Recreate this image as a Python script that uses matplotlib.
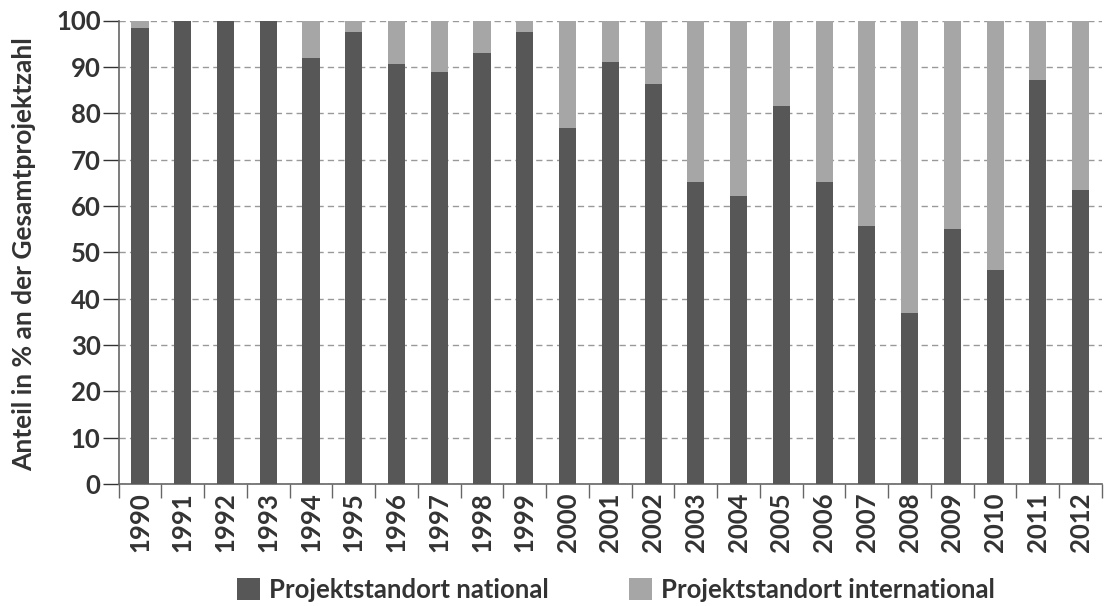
import matplotlib
matplotlib.use("Agg")
import matplotlib.pyplot as plt
from matplotlib.patches import Patch
import numpy as np

years = [str(y) for y in range(1990, 2013)]
national = [98.3, 100, 100, 100, 91.9, 97.5, 90.6, 88.8, 93.0, 97.6,
            76.8, 91.0, 86.3, 65.1, 62.2, 81.6, 65.1, 55.6, 36.9, 55.0,
            46.1, 87.2, 63.5]
international = [100 - v for v in national]
y_ticks = list(range(0, 101, 10))
labels = ["Projektstandort national", "Projektstandort international"]
ylabel = "Anteil in % an der Gesamtprojektzahl"

plt.rcParams['font.family'] = ['Lato', 'DejaVu Sans']
plt.rcParams['font.weight'] = 'bold'
txt = '#333333'
dark = '#575757'
light = '#a6a6a6'
FS = 18.5

W, H = 1104, 606
fig = plt.figure(figsize=(W / 100, H / 100), dpi=100)
left, right, top, bottom = 118.6, 1102, 20.5, 484
ax = fig.add_axes([left / W, 1 - bottom / H, (right - left) / W, (bottom - top) / H])

x = np.arange(len(years))
ax.bar(x, national, width=0.4, color=dark, zorder=3)
ax.bar(x, international, bottom=national, width=0.4, color=light, zorder=3)

ax.set_xlim(-0.5, len(years) - 0.5)
ax.set_ylim(0, 100)
ax.set_yticks(y_ticks)
ax.set_yticklabels([str(v) for v in y_ticks], fontsize=FS, color=txt)
ax.set_xticks(x)
ax.set_xticklabels(years, rotation=90, fontsize=FS, color=txt)
ax.set_xticks(np.arange(-0.5, len(years), 1), minor=True)
ax.tick_params(axis='x', which='major', length=0, pad=6)
ax.tick_params(axis='x', which='minor', length=10, width=1.0, color='#666666')
ax.tick_params(axis='y', length=11.5, width=1.0, color='#333333', pad=1.5)

ax.yaxis.grid(True, linestyle=(0, (4.5, 3)), linewidth=1.0, color='#999999', zorder=0)
ax.set_axisbelow(True)
for s in ['top', 'right']:
    ax.spines[s].set_visible(False)
for s in ['left', 'bottom']:
    ax.spines[s].set_color('#666666')
    ax.spines[s].set_linewidth(1.2)

fig.text(24 / W, 1 - 254 / H, ylabel, rotation=90, ha='center', va='center',
         fontsize=19, color=txt)

handles = [Patch(facecolor=dark, edgecolor='none'), Patch(facecolor=light, edgecolor='none')]
fig.legend(handles, labels, loc='center', bbox_to_anchor=(616 / W, 1 - 590 / H), ncol=2,
           frameon=False, fontsize=FS, handlelength=0.9, handleheight=0.93,
           handletextpad=0.35, columnspacing=3.1, labelcolor=txt, borderpad=0,
           borderaxespad=0)

fig.savefig("out.png", dpi=100)
